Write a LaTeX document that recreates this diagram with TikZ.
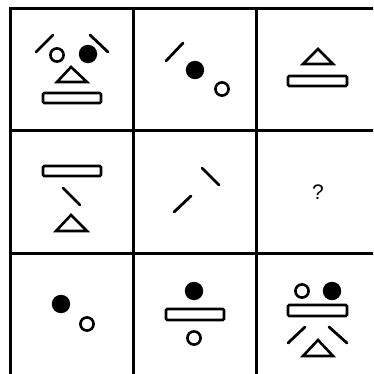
\documentclass[tikz,border=0pt]{standalone}
\usepackage{fontspec}
\setmainfont{Liberation Sans}
\begin{document}
\begin{tikzpicture}[x=1pt,y=-1pt,
  grid/.style={line width=3pt},
  shp/.style={line width=2.6pt,line join=miter},
  bar/.style={shp,rounded corners=1.2pt},
  stroke/.style={line width=2.8pt,line cap=round},
  fdot/.style={fill=black},
  odot/.style={shp,fill=white}]
\useasboundingbox (0,0) rectangle (373,374);
\begin{scope}
\clip (0,0) rectangle (373,374);
\draw[grid] (10,9) rectangle (380,377);
\draw[grid] (133,9) -- (133,377) (256,9) -- (256,377);
\draw[grid] (10,131) -- (380,131) (10,253) -- (380,253);
\end{scope}
% cell 1
\draw[stroke] (36,52) -- (53,35);
\draw[stroke] (90,35) -- (108,52);
\draw[odot] (57,55) circle (6.6);
\fill[fdot] (88,54) circle (9.2);
\draw[shp] (71,67) -- (57,82) -- (87,82) -- cycle;
\draw[bar] (43,93) rectangle (101,103);
% cell 2
\draw[stroke] (166,61) -- (183,43);
\fill[fdot] (195,70) circle (9.2);
\draw[odot] (222,89) circle (6.6);
% cell 3
\draw[shp] (318,49) -- (303,64) -- (333,64) -- cycle;
\draw[bar] (288,76) rectangle (347,86);
% cell 4
\draw[bar] (43,166) rectangle (101,176);
\draw[stroke] (63,188) -- (80,205);
\draw[shp] (71,215) -- (56,231) -- (87,231) -- cycle;
% cell 5
\draw[stroke] (202,168) -- (219,185);
\draw[stroke] (174,212) -- (191,196);
% cell 6
\node[font=\fontsize{21}{25}\selectfont,inner sep=0pt] (q) at (318,192) {?};
% cell 7
\fill[fdot] (61,304) circle (9.2);
\draw[odot] (87,324) circle (6.6);
% cell 8
\fill[fdot] (194,291) circle (9.2);
\draw[bar] (166,309) rectangle (224,320);
\draw[odot] (194,338) circle (6.6);
% cell 9
\draw[odot] (302,291) circle (6.6);
\fill[fdot] (332,291) circle (9.2);
\draw[bar] (288,305) rectangle (347,316);
\draw[stroke] (288,343) -- (305,327);
\draw[stroke] (329,327) -- (347,343);
\draw[shp] (318,340) -- (303,356) -- (333,356) -- cycle;
\end{tikzpicture}
\end{document}
